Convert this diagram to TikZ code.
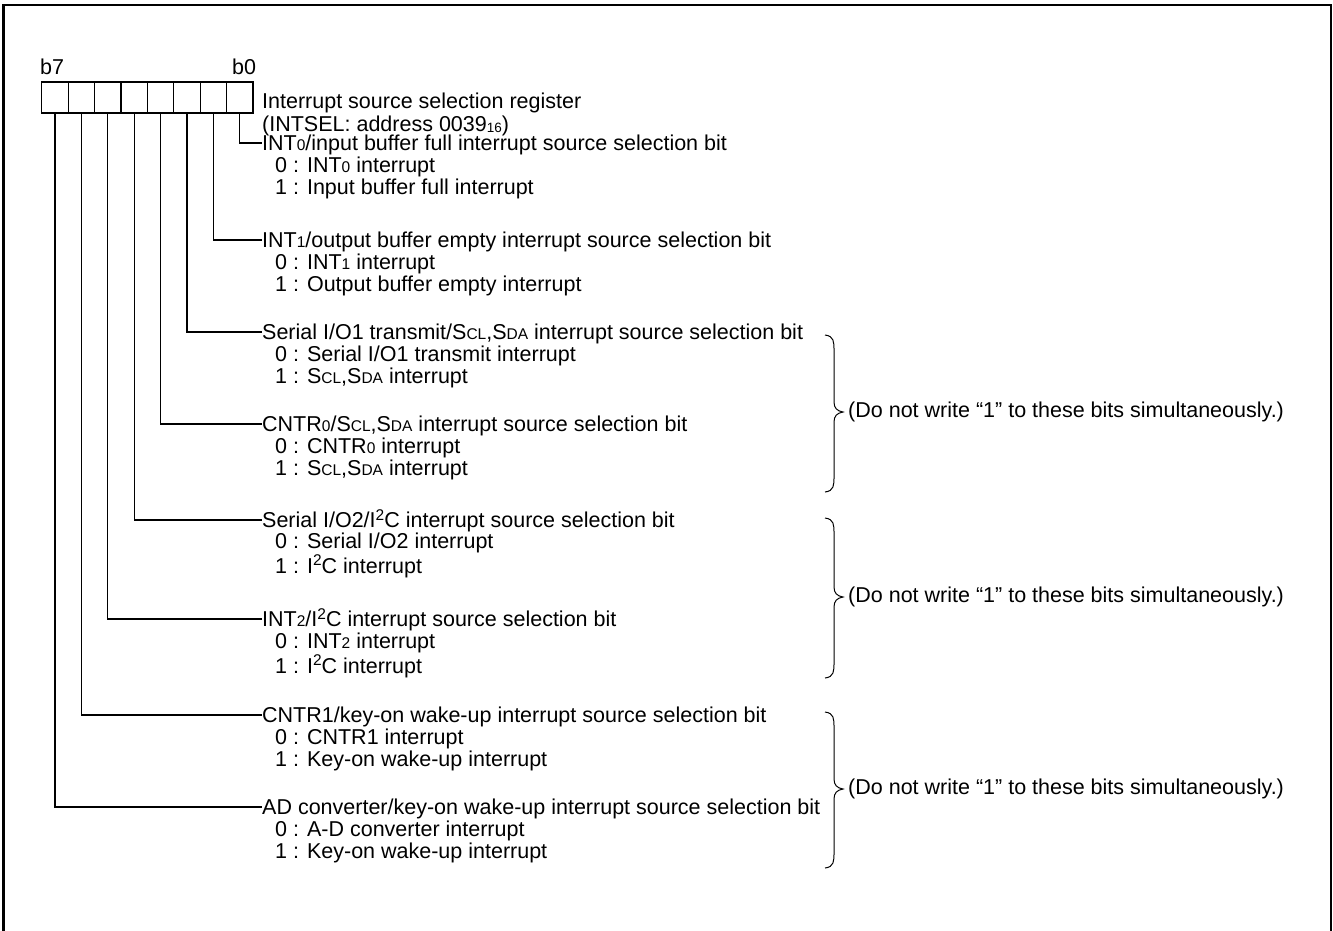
\documentclass[tikz,border=0pt]{standalone}
\usepackage{fontspec}
\setmainfont{Liberation Sans}
\newcommand\sm[1]{{\fontsize{15.5}{15.5}\selectfont #1}}
\newcommand\subs[1]{\raisebox{-1.5pt}{\fontsize{13.5}{13.5}\selectfont #1}}
\newcommand\sups[1]{\raisebox{7.2pt}{\fontsize{15.5}{15.5}\selectfont #1}}
\begin{document}
\begin{tikzpicture}[x=1pt,y=-1pt,
  every node/.style={font=\fontsize{21.5}{22}\selectfont},
  bitbox/.style={draw, line width=1.3pt, minimum width=26.4pt, minimum height=31pt, inner sep=0pt},
  head/.style={anchor=west, inner sep=0pt, text height=15.5pt, text depth=0pt},
  opt/.style={anchor=base west, inner sep=0pt},
  wire/.style={line width=1.3pt},
  brc/.style={line width=1pt},
  frame/.style={line width=2.5pt}]
\useasboundingbox (0,0) rectangle (1333,930);
\draw[frame] (3.5,931) -- (3.5,5) -- (1331,5) -- (1331,931);
% register boxes
\foreach \i in {0,...,7} \node[bitbox] (b\i) at ({239.8-26.4*\i},97.5) {};
\node[opt] (lb7) at (40,74) {b7};
\node[opt] (lb0) at (232,74) {b0};
\node[opt] (title) at (262,108) {Interrupt source selection register};
\node[opt] (addr) at (262,131) {(INTSEL: address 0039\subs{16})};
% bit 0
\node[head] (h0) at (262,143) {INT\sm{0}/input buffer full interrupt source selection bit};
\node[opt] (h0a) at (275,172) {0 : INT\sm{0} interrupt};
\node[opt] (h0b) at (275,194) {1 : Input buffer full interrupt};
% bit 1
\node[head] (h1) at (262,240) {INT\sm{1}/output buffer empty interrupt source selection bit};
\node[opt] (h1a) at (275,269) {0 : INT\sm{1} interrupt};
\node[opt] (h1b) at (275,291) {1 : Output buffer empty interrupt};
% bit 2
\node[head] (h2) at (262,332) {Serial I/O1 transmit/S\sm{CL},S\sm{DA} interrupt source selection bit};
\node[opt] (h2a) at (275,361) {0 : Serial I/O1 transmit interrupt};
\node[opt] (h2b) at (275,383) {1 : S\sm{CL},S\sm{DA} interrupt};
% bit 3
\node[head] (h3) at (262,424) {CNTR\sm{0}/S\sm{CL},S\sm{DA} interrupt source selection bit};
\node[opt] (h3a) at (275,453) {0 : CNTR\sm{0} interrupt};
\node[opt] (h3b) at (275,475) {1 : S\sm{CL},S\sm{DA} interrupt};
% bit 4
\node[head] (h4) at (262,520) {Serial I/O2/I\sups{2}C interrupt source selection bit};
\node[opt] (h4a) at (275,548) {0 : Serial I/O2 interrupt};
\node[opt] (h4b) at (275,573) {1 : I\sups{2}C interrupt};
% bit 5
\node[head] (h5) at (262,619) {INT\sm{2}/I\sups{2}C interrupt source selection bit};
\node[opt] (h5a) at (275,648) {0 : INT\sm{2} interrupt};
\node[opt] (h5b) at (275,673) {1 : I\sups{2}C interrupt};
% bit 6
\node[head] (h6) at (262,715) {CNTR1/key-on wake-up interrupt source selection bit};
\node[opt] (h6a) at (275,744) {0 : CNTR1 interrupt};
\node[opt] (h6b) at (275,766) {1 : Key-on wake-up interrupt};
% bit 7
\node[head] (h7) at (262,807) {AD converter/key-on wake-up interrupt source selection bit};
\node[opt] (h7a) at (275,836) {0 : A-D converter interrupt};
\node[opt] (h7b) at (275,858) {1 : Key-on wake-up interrupt};
% connectors
\foreach \i in {0,...,7} \draw[wire] (b\i.south) |- (h\i.west);
% braces and notes
\foreach \t/\m/\b/\k in {335/412/492/1, 518/597/678/2, 712/789/868/3}{
  \draw[brc] (825,\t) .. controls (834,\t+1) and (834,\t+7) .. (834,\t+15)
     -- (834,\m-10) .. controls (834,\m-4) and (837,\m-1) .. (843,\m)
     .. controls (837,\m+1) and (834,\m+4) .. (834,\m+10)
     -- (834,\b-15) .. controls (834,\b-7) and (834,\b-1) .. (825,\b);
  \node[anchor=west, inner sep=0pt] (note\k) at (848,\m) {(Do not write “1” to these bits simultaneously.)};
}
\end{tikzpicture}
\end{document}
